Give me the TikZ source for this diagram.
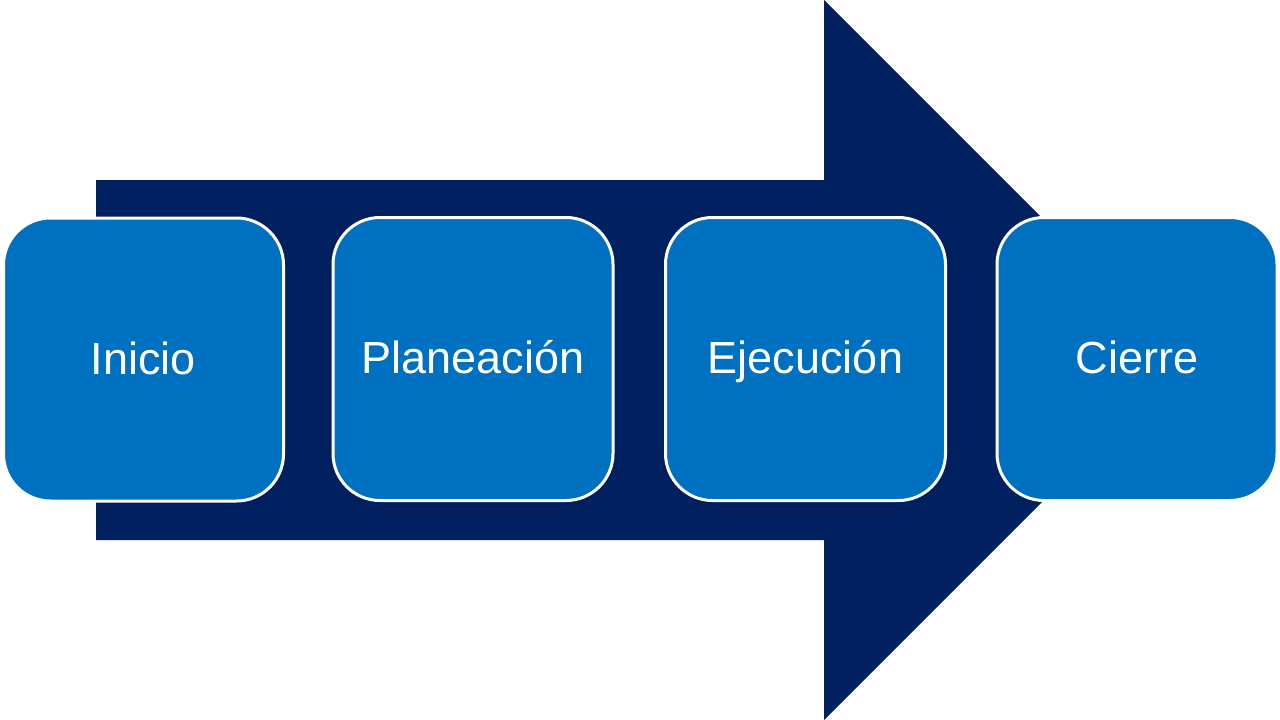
\documentclass[tikz,border=0pt]{standalone}
\usepackage{fontspec}
\setmainfont{Liberation Sans}
\definecolor{navy}{HTML}{002060}
\definecolor{boxblue}{HTML}{0070C0}
\begin{document}
\begin{tikzpicture}[x=1pt,y=-1pt,
  stage/.style={draw=white, line width=3pt, fill=boxblue, rounded corners=47pt,
    minimum width=280pt, minimum height=283pt, inner sep=0pt,
    text height=35pt, text depth=6pt,
    text=white, font=\fontsize{45}{54}\selectfont}]
\useasboundingbox[fill=white] (0,0) rectangle (1280,720);
\fill[navy] (96,180) -- (824,180) -- (824,0) -- (1184,360) -- (824,720) -- (824,540) -- (96,540) -- cycle;
\node[stage] (inicio) at (143.5,359.5) {Inicio};
\node[stage] (plan) at (473,359) {Planeación};
\node[stage] (ejec) at (805.5,359) {Ejecución};
\node[stage] (cierre) at (1137,359) {Cierre};
\end{tikzpicture}
\end{document}
